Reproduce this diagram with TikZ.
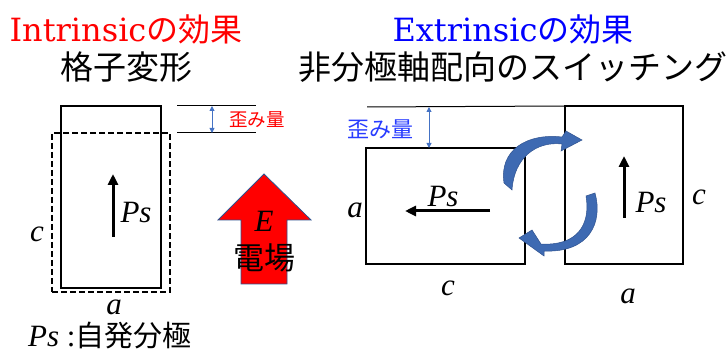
\documentclass[tikz,border=0pt]{standalone}
\usepackage{fontspec}
\setmainfont{Liberation Serif}
\newfontfamily\labelfont{Liberation Serif}[ItalicFont={Liberation Serif Italic}]
\newfontfamily\cjkfont{Noto Sans CJK JP}
\newfontfamily\headfont{DejaVu Serif}
\usetikzlibrary{arrows.meta}
\definecolor{dimblue}{RGB}{68,114,196}
\definecolor{curveblue}{RGB}{62,106,178}
\definecolor{curveedge}{RGB}{47,82,143}
\definecolor{strainblue}{RGB}{40,60,255}
\begin{document}
\begin{tikzpicture}[x=1pt,y=-1pt,
  box/.style={draw, line width=1.8pt, inner sep=0pt, outer sep=0pt},
  dashbox/.style={box, line width=2.2pt, dash pattern=on 6pt off 3pt},
  psarrow/.style={line width=3pt, -{Triangle[length=11pt,width=10pt]}},
  dimarrow/.style={dimblue, line width=0.9pt, {Triangle[length=5pt,width=5pt]}-{Triangle[length=5pt,width=5pt]}},
  refline/.style={line width=1pt},
  ital/.style={font=\fontsize{31}{36}\selectfont\labelfont\itshape, inner sep=0pt, anchor=base},
  jp/.style={font=\fontsize{33}{38}\selectfont\cjkfont, inner sep=0pt, anchor=base},
  head/.style={font=\fontsize{32}{38}\selectfont\headfont, inner sep=0pt, anchor=base},
  curved/.style={fill=curveblue, draw=curveedge, line width=0.5pt},
]
\useasboundingbox (0,0) rectangle (728,355);

% titles
\node[head, text=red] (t1) at (126,42) {Intrinsic{\cjkfont の効果}};
\node[jp] (t1b) at (126,80) {格子変形};
\node[head, text=blue] (t2) at (513,42) {Extrinsic{\cjkfont の効果}};
\node[jp] (t2b) at (513,80) {非分極軸配向のスイッチング};

% left: lattice deformation
\node[dashbox, minimum width=118pt, minimum height=159pt] (cellD) at (111,212.5) {};
\node[box, minimum width=100pt, minimum height=182pt] (cellS) at (111,197) {};
\coordinate (psLs) at (113,237);
\coordinate (psLe) at (113,174);
\draw[psarrow] (psLs) -- (psLe);
\node[ital] (psL) at (136,223) {Ps};
\node[ital] (cL) at (37,242) {c};
\node[ital] (aL) at (114,315) {a};
\node[anchor=base west, inner sep=0pt] (legend) at (28,346)
  {\fontsize{31}{38}\selectfont\labelfont\itshape Ps\upshape{} :\cjkfont\fontsize{29}{38}\selectfont 自発分極};

% strain marker (left)
\coordinate (r1a) at (177,106); \coordinate (r1b) at (256,106);
\coordinate (r2a) at (177,133); \coordinate (r2b) at (256,133);
\draw[refline] (r1a) -- (r1b);
\draw[refline] (r2a) -- (r2b);
\coordinate (d1a) at (212,106); \coordinate (d1b) at (212,133);
\draw[dimarrow] (d1a) -- (d1b);
\node[anchor=west, inner sep=0pt, text=red, font=\cjkfont\fontsize{18.5}{20}\selectfont] (s1) at (229,120) {歪み量};

% electric field arrow
\draw[fill=red, draw=curveedge, line width=0.8pt]
  (264,174) -- (311,220) -- (287,220) -- (287,284) -- (241,284) -- (241,220) -- (218,220) -- cycle;
\node[ital] (E) at (264,232) {E};
\node[jp, font=\fontsize{31}{36}\selectfont\cjkfont] (field) at (264,270) {電場};

% right: switching
\node[box, minimum width=159pt, minimum height=116pt] (cellH) at (445.5,206) {};
\node[box, minimum width=118pt, minimum height=158pt] (cellV) at (624,185) {};
\coordinate (r3a) at (367,107);
\draw[refline] (r3a) -- (cellV.north west);
\coordinate (d2a) at (429,107); \coordinate (d2b) at (429,148);
\draw[dimarrow] (d2a) -- (d2b);
\node[inner sep=0pt, text=strainblue, font=\cjkfont\fontsize{22}{24}\selectfont] (s2) at (380,129) {歪み量};

\coordinate (psHs) at (490,211);
\coordinate (psHe) at (405,211);
\draw[psarrow] (psHs) -- (psHe);
\node[ital] (psH) at (443,207) {Ps};
\node[ital] (aH) at (355,218) {a};
\node[ital] (cH) at (448,295) {c};

\coordinate (psVs) at (624,218);
\coordinate (psVe) at (624,156);
\draw[psarrow] (psVs) -- (psVe);
\node[ital] (psV) at (651,213) {Ps};
\node[ital] (cV) at (699,205) {c};
\node[ital] (aV) at (628,303) {a};

% curved rotation arrows
\draw[curved] (504,183) .. controls (499,150) and (527,133) .. (562,137)
  -- (566,131) -- (582,140) -- (561,151) -- (562,144)
  .. controls (536,141) and (514,158) .. (512,190) -- cycle;
\draw[curved] (586,196) -- (595,193) .. controls (603,222) and (590,253) .. (544,251)
  -- (544,256) -- (519,238) -- (532,230) -- (541,244)
  .. controls (576,246) and (591,226) .. (586,196) -- cycle;
\end{tikzpicture}
\end{document}
